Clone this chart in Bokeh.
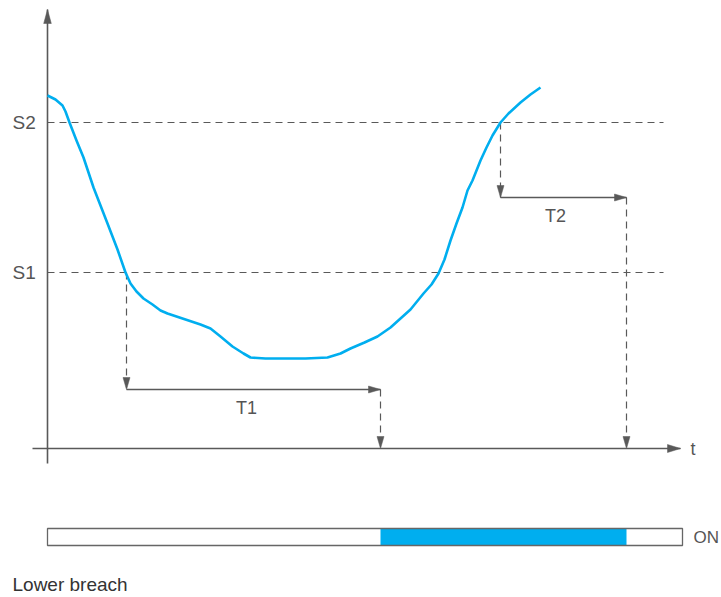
from bokeh.plotting import figure
from bokeh.models import Range1d
from bokeh.core.properties import value
from bokeh.embed import file_html
from bokeh.resources import INLINE

# ---- data (time units / level units, origin at the axes crossing) ----
curve_t = [0, 8, 15, 18, 22, 29, 36, 46, 60, 70, 78, 83, 89, 96, 105, 113, 120, 138, 153,
           163, 173, 185, 196, 203, 218, 236, 258, 280, 293, 303, 317, 330, 343, 353, 363,
           376, 384, 391, 397, 403, 409, 415, 420, 425, 433, 439, 445, 453, 461, 473, 483, 493]
curve_v = [353, 349, 343, 337, 326, 308, 291, 261, 225, 199, 176, 165, 157, 150, 144, 138, 135,
           129, 124, 120, 112, 102, 95, 91, 90, 90, 90, 91, 95, 100, 106, 112, 121, 130, 139,
           155, 164, 175, 189, 208, 225, 241, 258, 268, 288, 301, 313, 326, 335, 346, 354, 361]
threshold_names = ["S2", "S1"]
threshold_levels = [326, 176]
delay_names = ["T1", "T2"]
delay_start = [79, 453]
delay_end = [333, 579]
delay_level = [59, 251]
t_max = 633
v_max = 439
bar_end = 635

GRAY = "#595959"
BLUE = "#00AEEF"
FONT = value("Liberation Sans")

p = figure(width=721, height=597, output_backend="svg", toolbar_location=None,
           x_range=Range1d(-47, 674), y_range=Range1d(-149, 448),
           min_border=0, outline_line_color=None)
p.axis.visible = False
p.grid.visible = False


def head(xe, ye, dx, dy, L, W):
    bx, by = xe - dx * L, ye - dy * L
    return [xe, bx - dy * W, bx + dy * W], [ye, by + dx * W, by - dx * W]


heads_x, heads_y = [], []

# axes
p.line([-15, t_max], [0, 0], line_color=GRAY, line_width=1.6)
p.line([0, 0], [-15, v_max], line_color=GRAY, line_width=1.6)
hx, hy = head(t_max, 0, 1, 0, 13, 4); heads_x.append(hx); heads_y.append(hy)
hx, hy = head(0, v_max, 0, 1, 14, 3.8); heads_x.append(hx); heads_y.append(hy)

# thresholds
for name, lev in zip(threshold_names, threshold_levels):
    p.line([0, 616], [lev, lev], line_color=GRAY, line_width=1.2, line_dash="7 5")
    p.text(x=[-35], y=[lev], text=[name], text_font=FONT, text_font_size="19px",
           text_color="#555555", text_baseline="middle", text_align="left")

# delays
crossings = [threshold_levels[1], threshold_levels[0]]
for name, ts, te, lv, cross in zip(delay_names, delay_start, delay_end, delay_level, crossings):
    p.line([ts, ts], [cross, lv], line_color=GRAY, line_width=1.2, line_dash="7 5")
    p.line([ts, te], [lv, lv], line_color=GRAY, line_width=1.5)
    p.line([te, te], [lv, 0], line_color=GRAY, line_width=1.2, line_dash="7 5")
    for (xe, ye, dx, dy) in [(ts, lv, 0, -1), (te, lv, 1, 0), (te, 0, 0, -1)]:
        hx, hy = head(xe, ye, dx, dy, 12, 3.5)
        heads_x.append(hx); heads_y.append(hy)
    p.text(x=[(ts + te) / 2 - 7 if name == "T1" else (ts + te) / 2 - 8],
           y=[lv - 18], text=[name], text_font=FONT, text_font_size="18px",
           text_color="#555555", text_baseline="middle", text_align="center")

p.patches(heads_x, heads_y, fill_color=GRAY, line_color=GRAY, line_width=0.5)

# signal curve
p.line(curve_t, curve_v, line_color=BLUE, line_width=2.6, line_join="round")

p.text(x=[643], y=[0], text=["t"], text_font=FONT, text_font_size="18px",
       text_color="#555555", text_baseline="middle", text_align="left")

# output bar
p.quad(left=[delay_end[0]], right=[delay_end[1]], bottom=[-97], top=[-80],
       fill_color=BLUE, line_color=None)
p.quad(left=[0], right=[bar_end], bottom=[-97], top=[-80],
       fill_color=None, line_color="#666666", line_width=1.3)
p.text(x=[646], y=[-89], text=["ON"], text_font=FONT, text_font_size="17px",
       text_color="#555555", text_baseline="middle", text_align="left")
p.text(x=[-35], y=[-136], text=["Lower breach"], text_font=FONT, text_font_size="19px",
       text_color="#333333", text_baseline="middle", text_align="left")

open("out.html", "w").write(file_html(p, INLINE))
